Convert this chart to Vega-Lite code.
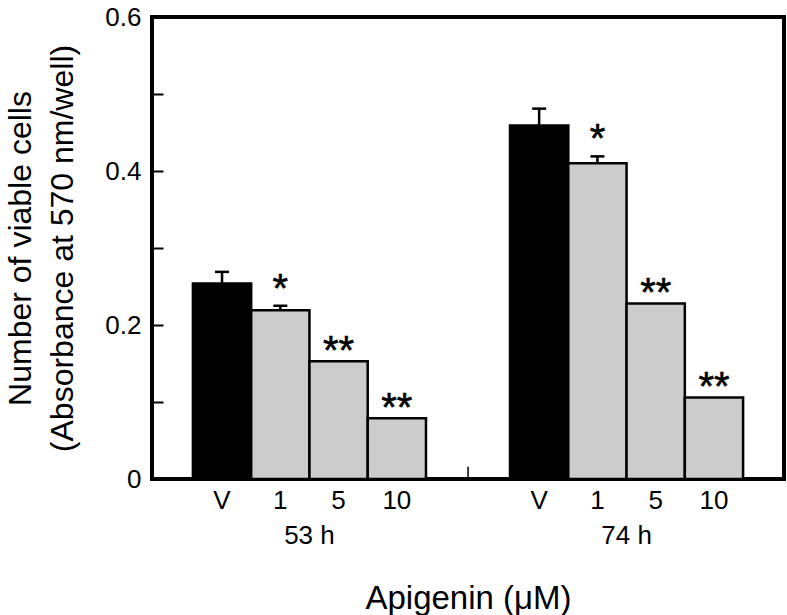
{
  "$schema": "https://vega.github.io/schema/vega-lite/v6.json",
  "width": 632,
  "height": 462,
  "autosize": {"type": "none"},
  "padding": {"left": 152, "top": 17, "right": 3, "bottom": 136},
  "background": "white",
  "config": {
    "font": "Liberation Sans",
    "view": {"stroke": "black", "strokeWidth": 4},
    "axis": {
      "labelColor": "black",
      "titleColor": "black",
      "tickColor": "black",
      "domain": false,
      "grid": false,
      "labelFont": "Liberation Sans",
      "titleFont": "Liberation Sans",
      "titleFontWeight": "normal",
      "labelFontSize": 26
    },
    "axisX": {
      "labelAngle": 0,
      "ticks": false,
      "labelPadding": 43,
      "titleFontSize": 33,
      "titlePadding": 34
    },
    "axisY": {
      "tickSize": -11,
      "tickWidth": 2,
      "labelPadding": 22,
      "titleFontSize": 32,
      "titleLineHeight": 42,
      "titlePadding": 25
    }
  },
  "data": {
    "values": [
      {"time": "53 h", "dose": "V", "value": 0.254, "upper": 0.269, "star": ""},
      {"time": "53 h", "dose": "1", "value": 0.219, "upper": 0.225, "star": "*"},
      {"time": "53 h", "dose": "5", "value": 0.153, "upper": null, "star": "**"},
      {"time": "53 h", "dose": "10", "value": 0.079, "upper": null, "star": "**"},
      {"time": "74 h", "dose": "V", "value": 0.459, "upper": 0.481, "star": ""},
      {"time": "74 h", "dose": "1", "value": 0.41, "upper": 0.419, "star": "*"},
      {"time": "74 h", "dose": "5", "value": 0.228, "upper": null, "star": "**"},
      {"time": "74 h", "dose": "10", "value": 0.106, "upper": null, "star": "**"}
    ]
  },
  "layer": [
    {
      "mark": {"type": "bar", "stroke": "black", "strokeWidth": 2.5, "opacity": 1},
      "encoding": {
        "x": {
          "field": "time",
          "type": "nominal",
          "scale": {"paddingInner": 0.265, "paddingOuter": 0.129},
          "axis": {"title": "Apigenin (μM)"}
        },
        "xOffset": {
          "field": "dose",
          "type": "nominal",
          "scale": {"domain": ["V", "1", "5", "10"], "paddingInner": 0, "paddingOuter": 0}
        },
        "y": {
          "field": "value",
          "type": "quantitative",
          "scale": {"domain": [0, 0.6], "nice": false},
          "axis": {
            "title": ["Number of viable cells", "(Absorbance at 570 nm/well)"],
            "values": [0, 0.1, 0.2, 0.3, 0.4, 0.5, 0.6],
            "format": ".1~f",
            "labelExpr": "round(datum.value * 10) % 2 === 0 ? datum.label : ''"
          }
        },
        "color": {
          "condition": {"test": "datum.dose === 'V'", "value": "black"},
          "value": "#cccccc"
        }
      }
    },
    {
      "mark": {"type": "rule", "stroke": "black", "strokeWidth": 2.5},
      "transform": [{"filter": "datum.upper != null"}],
      "encoding": {
        "x": {"field": "time", "type": "nominal"},
        "xOffset": {"field": "dose", "type": "nominal"},
        "y": {"field": "value", "type": "quantitative"},
        "y2": {"field": "upper"}
      }
    },
    {
      "mark": {"type": "tick", "color": "black", "size": 14, "thickness": 2.5, "opacity": 1},
      "transform": [{"filter": "datum.upper != null"}],
      "encoding": {
        "x": {"field": "time", "type": "nominal"},
        "xOffset": {"field": "dose", "type": "nominal"},
        "y": {"field": "upper", "type": "quantitative"}
      }
    },
    {
      "mark": {"type": "text", "fontSize": 40, "baseline": "alphabetic", "dy": -4, "color": "black", "stroke": "black", "strokeWidth": 0.6},
      "transform": [{"filter": "datum.star !== '' && datum.upper != null"}],
      "encoding": {
        "x": {"field": "time", "type": "nominal"},
        "xOffset": {"field": "dose", "type": "nominal"},
        "y": {"field": "upper", "type": "quantitative"},
        "text": {"field": "star"}
      }
    },
    {
      "mark": {"type": "text", "fontSize": 40, "baseline": "alphabetic", "dy": 3, "color": "black", "stroke": "black", "strokeWidth": 0.6},
      "transform": [{"filter": "datum.star !== '' && datum.upper == null"}],
      "encoding": {
        "x": {"field": "time", "type": "nominal"},
        "xOffset": {"field": "dose", "type": "nominal"},
        "y": {"field": "value", "type": "quantitative"},
        "text": {"field": "star"}
      }
    },
    {
      "mark": {"type": "text", "fontSize": 26, "baseline": "middle", "dy": 22, "color": "black"},
      "encoding": {
        "x": {"field": "time", "type": "nominal"},
        "xOffset": {"field": "dose", "type": "nominal"},
        "y": {"datum": 0},
        "text": {"field": "dose"}
      }
    },
    {
      "data": {"values": [{"time": "74 h"}]},
      "mark": {"type": "rule", "stroke": "black", "strokeWidth": 1.5},
      "encoding": {
        "x": {"field": "time", "type": "nominal", "bandPosition": -0.18},
        "y": {"datum": 0},
        "y2": {"datum": 0.016}
      }
    }
  ]
}
